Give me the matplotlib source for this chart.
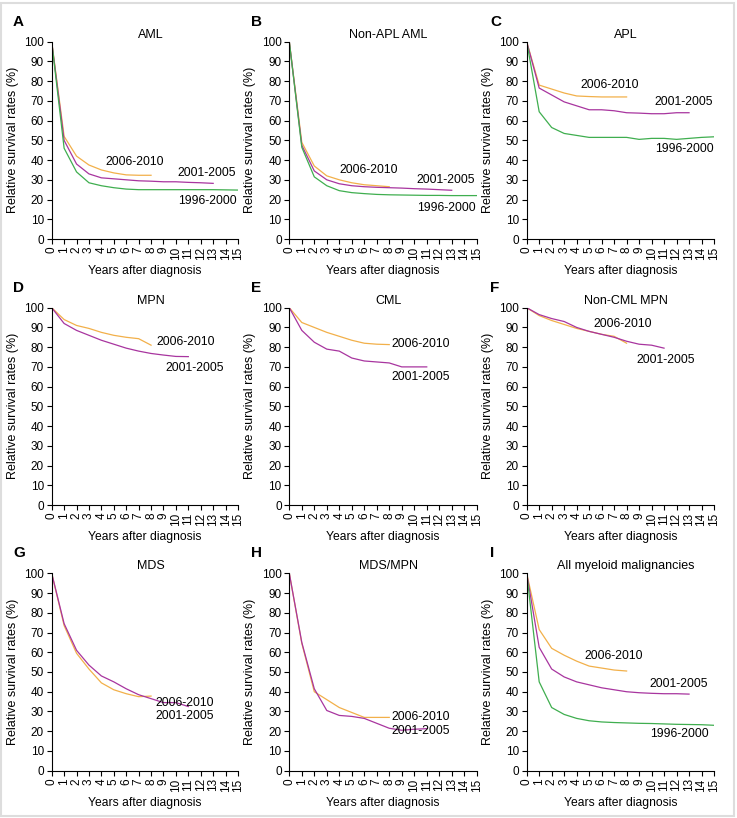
import matplotlib.pyplot as plt
from matplotlib.patches import Rectangle

plt.rcParams['font.family'] = ['Liberation Sans', 'DejaVu Sans']

W, H = 737, 818
ORANGE = "#f2b04a"
PURPLE = "#a8359f"
GREEN = "#3fae4f"

years = list(range(16))

# survival values per year after diagnosis, one list per period
aml_0610 = [100, 52, 42, 37.5, 35, 33.5, 32.5, 32.3, 32.3]
aml_0105 = [100, 50, 38, 33, 31, 30.5, 30, 29.5, 29.3, 29, 29, 28.7, 28.5, 28.2]
aml_9600 = [100, 46, 34, 28.5, 27, 26, 25.3, 25, 25, 25, 25, 25, 25, 25, 24.9, 24.8]

napl_0610 = [100, 49, 37, 32, 30, 28.5, 27.5, 27, 26.5]
napl_0105 = [100, 47.5, 34.5, 30, 28, 27, 26.5, 26.2, 26, 25.8, 25.5, 25.3, 25, 24.7]
napl_9600 = [100, 46.5, 31.5, 27, 24.5, 23.5, 23, 22.6, 22.4, 22.3, 22.2, 22.1, 22.1, 22, 22, 22]

apl_0610 = [100, 78, 76, 74, 72.5, 72.2, 72, 72, 72]
apl_0105 = [100, 76.5, 73, 69.5, 67.5, 65.5, 65.5, 65, 64, 63.8, 63.5, 63.5, 64, 64]
apl_9600 = [100, 64.5, 56.5, 53.5, 52.5, 51.5, 51.5, 51.5, 51.5, 50.5, 51, 51, 50.5, 51, 51.5, 51.8]

mpn_0610 = [100, 94, 91, 89.5, 87.5, 86, 85, 84.3, 81]
mpn_0105 = [100, 92, 88.5, 86, 83.5, 81.5, 79.5, 78, 76.8, 76, 75.3, 75.2]

cml_0610 = [100, 92.5, 90, 87.5, 85.5, 83.5, 82, 81.5, 81.3]
cml_0105 = [100, 88.5, 82.5, 79, 78, 74.5, 73, 72.5, 72, 70, 70, 70]

ncml_0610 = [100, 96, 93.5, 91.5, 89.5, 88, 86.5, 85.5, 82]
ncml_0105 = [100, 96.5, 94.5, 93, 90, 88, 86.5, 85, 83, 81.5, 81, 79.5]

mds_0610 = [100, 73.5, 59.5, 51.5, 44.5, 41, 39, 37.5, 37.8]
mds_0105 = [100, 74.5, 61, 53.5, 48, 45, 41.5, 38.5, 36.5, 34.5, 34.5, 32.5]

mdsmpn_0610 = [100, 64.5, 40, 36, 32, 29.5, 27, 27, 27]
mdsmpn_0105 = [100, 65, 41.5, 30.5, 28, 27.5, 26.5, 24, 21.5, 20.5, 21, 21.3]

all_0610 = [100, 71.5, 62, 58.5, 55.5, 53, 52, 51, 50.5]
all_0105 = [100, 62.5, 51.5, 47.5, 45, 43.5, 42, 41, 40, 39.5, 39.2, 39, 39, 38.8]
all_9600 = [100, 45, 32, 28.5, 26.5, 25.3, 24.7, 24.4, 24.2, 24, 23.9, 23.7, 23.5, 23.4, 23.3, 23]

# (letter, title, [(period, values, label position in data units)])
panels = [
    ("A", "AML", [("2006-2010", aml_0610, (6.7, 39)), ("2001-2005", aml_0105, (12.5, 33.3)),
                  ("1996-2000", aml_9600, (12.5, 19.3))]),
    ("B", "Non-APL AML", [("2006-2010", napl_0610, (6.35, 35)), ("2001-2005", napl_0105, (12.55, 29.7)),
                          ("1996-2000", napl_9600, (12.55, 15.5))]),
    ("C", "APL", [("2006-2010", apl_0610, (6.63, 77.9)), ("2001-2005", apl_0105, (12.6, 69.3)),
                  ("1996-2000", apl_9600, (12.6, 45.8))]),
    ("D", "MPN", [("2006-2010", mpn_0610, (10.77, 82.6)), ("2001-2005", mpn_0105, (11.5, 69.6))]),
    ("E", "CML", [("2006-2010", cml_0610, (10.54, 81.6)), ("2001-2005", cml_0105, (10.54, 64.7))]),
    ("F", "Non-CML MPN", [("2006-2010", ncml_0610, (7.69, 91.7)), ("2001-2005", ncml_0105, (11.16, 73.5))]),
    ("G", "MDS", [("2006-2010", mds_0610, (10.71, 34.1)), ("2001-2005", mds_0105, (10.71, 27.9))]),
    ("H", "MDS/MPN", [("2006-2010", mdsmpn_0610, (10.54, 27.4)), ("2001-2005", mdsmpn_0105, (10.54, 20.1))]),
    ("I", "All myeloid malignancies", [("2006-2010", all_0610, (7.0, 58.1)), ("2001-2005", all_0105, (12.2, 43.8)),
                                       ("1996-2000", all_9600, (12.2, 18.6))]),
]
colors = {"2006-2010": ORANGE, "2001-2005": PURPLE, "1996-2000": GREEN}

# axes pixel positions (left, right) per column and (top, bottom) per row
cols = [(51.7, 238), (289.3, 476.7), (526.7, 714)]
rows = [(41.7, 239), (307.7, 505), (573.3, 770.7)]
letter_x = [13, 251, 490]

fig = plt.figure(figsize=(W / 100, H / 100), dpi=100)
fig.patches.append(Rectangle((0.002, 0.002), 0.994, 0.994, transform=fig.transFigure,
                             fill=False, edgecolor="#dddddd", lw=1.5))

for k, (letter, title, series) in enumerate(panels):
    r, c = divmod(k, 3)
    x0, x1 = cols[c]
    y0, y1 = rows[r]
    ax = fig.add_axes([x0 / W, 1 - y1 / H, (x1 - x0) / W, (y1 - y0) / H])
    for name, vals, (lx, ly) in series:
        ax.plot(years[:len(vals)], vals, color=colors[name], lw=0.9)
        ax.text(lx, ly, name, ha="center", va="center", fontsize=8.8)
    ax.set_xlim(0, 15)
    ax.set_ylim(0, 100)
    ax.set_xticks(years)
    ax.set_xticklabels([str(v) for v in years], rotation=90, fontsize=8.5)
    ax.set_yticks(range(0, 101, 10))
    ax.tick_params(axis="y", labelsize=8.5, length=3.5, pad=2)
    ax.tick_params(axis="x", length=3.5, pad=2)
    ax.spines["top"].set_visible(False)
    ax.spines["right"].set_visible(False)
    ax.set_ylabel("Relative survival rates (%)", fontsize=9, labelpad=4)
    ax.set_xlabel("Years after diagnosis", fontsize=8.7, labelpad=4)
    fig.text(letter_x[c] / W, 1 - (y0 - 20) / H, letter, fontsize=11, fontweight="bold",
             ha="left", va="center")
    ax.set_title(title, fontsize=9, pad=3, x=0.53)

fig.savefig("out.png", dpi=100)
